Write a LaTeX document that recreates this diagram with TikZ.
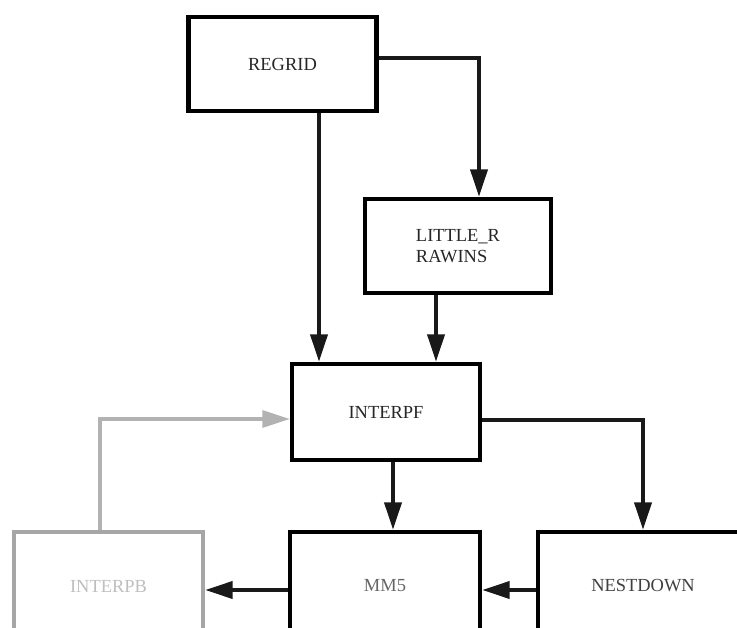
\documentclass[tikz,border=0pt]{standalone}
\usepackage{fontspec}
\setmainfont{Liberation Serif}
\usetikzlibrary{arrows.meta}

\begin{document}
\begin{tikzpicture}[
  x=0.02cm, y=-0.02cm,
  prog/.style={rectangle, draw, line width=2.5pt,
    minimum width=3.76cm, minimum height=1.88cm,
    align=left, font=\fontsize{10.5}{11.5}\selectfont, text=black!85},
  cutbox/.style={prog, minimum width=3.8cm, minimum height=2.16cm},
  faded/.style={cutbox, draw=black!35, text=black!25},
  arr/.style={-{Triangle[length=0.55cm, width=0.34cm]}, line width=2.2pt, draw=black!90},
  retarr/.style={arr, draw=black!30, line width=1.8pt}
]
\useasboundingbox (0,0) rectangle (737,628);
\clip (0,0) rectangle (737,628);

\node[prog] (regrid) at (282.5,64) {REGRID};
\node[prog, minimum width=3.72cm] (littler) at (458,246) {LITTLE\_R\\RAWINS};
\node[prog, minimum height=1.92cm] (interpf) at (386,412) {INTERPF};
\node[cutbox, text=black!60] (mm5) at (385,586) {MM5};
\node[cutbox, minimum width=4.2cm, text=black!75] (nestdown) at (643,586) {NESTDOWN};
\node[faded, minimum width=3.78cm] (interpb) at (108.5,586) {INTERPB};

\draw[arr] ([yshift=0.12cm]regrid.east) -| ([xshift=0.42cm]littler.north);
\draw[arr] ([xshift=0.73cm]regrid.south) coordinate (r1) -- (r1 |- interpf.north);
\draw[arr] ([xshift=-0.44cm]littler.south) coordinate (l1) -- (l1 |- interpf.north);
\draw[arr] ([xshift=0.14cm]interpf.south) coordinate (i1) -- (i1 |- mm5.north);
\draw[arr] ([yshift=-0.16cm]interpf.east) -| (nestdown.north);
\draw[arr] ([yshift=-0.08cm]nestdown.west) -- ([yshift=-0.08cm]mm5.east);
\draw[arr] ([yshift=-0.08cm]mm5.west) -- ([yshift=-0.08cm]interpb.east);
\draw[retarr] ([xshift=-0.17cm]interpb.north) |- ([yshift=-0.14cm]interpf.west);
\end{tikzpicture}
\end{document}
